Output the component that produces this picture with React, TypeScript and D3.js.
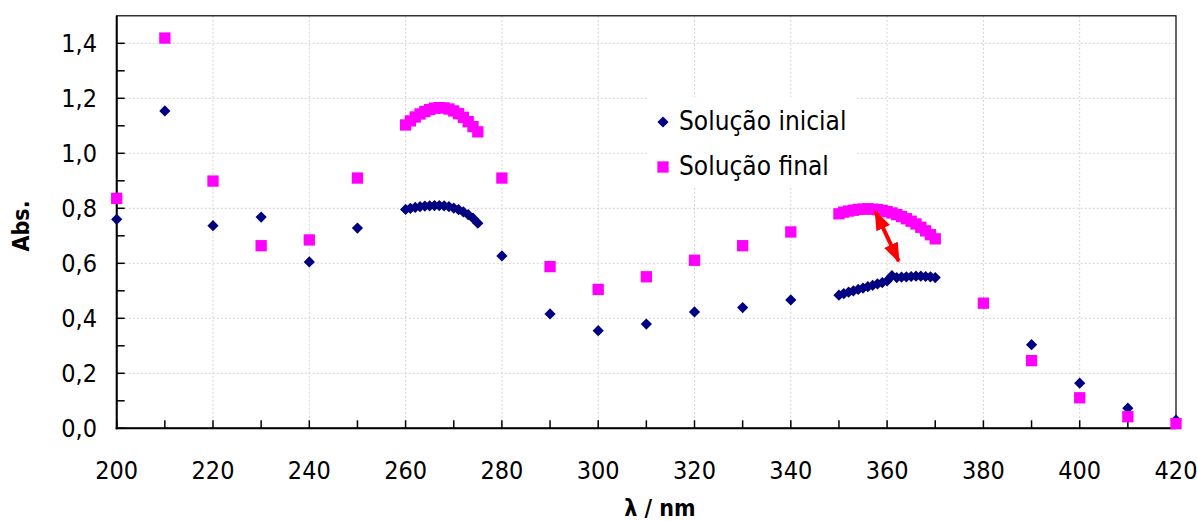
import React from "react";
import * as d3 from "d3";

const X_TICKS = [200, 220, 240, 260, 280, 300, 320, 340, 360, 380, 400, 420];
const X_MINOR = [210, 230, 250, 270, 290, 310, 330, 350, 370, 390, 410];
const Y_TICKS = [0, 0.2, 0.4, 0.6, 0.8, 1.0, 1.2, 1.4];
const Y_MINOR = [0.1, 0.3, 0.5, 0.7, 0.9, 1.1, 1.3];

const WAVE = [
  200, 210, 220, 230, 240, 250,
  260, 261, 262, 263, 264, 265, 266, 267, 268, 269, 270, 271, 272, 273, 274, 275,
  280, 290, 300, 310, 320, 330, 340,
  350, 351, 352, 353, 354, 355, 356, 357, 358, 359, 360, 361, 362, 363, 364, 365, 366, 367, 368, 369, 370,
  380, 390, 400, 410, 420,
];

const INICIAL = [
  0.760, 1.154, 0.737, 0.768, 0.605, 0.728,
  0.796, 0.800, 0.803, 0.806, 0.808, 0.809, 0.810, 0.810, 0.809, 0.806, 0.801, 0.795, 0.787, 0.777, 0.764, 0.746,
  0.627, 0.416, 0.355, 0.379, 0.423, 0.439, 0.467,
  0.484, 0.490, 0.495, 0.500, 0.505, 0.510, 0.515, 0.520, 0.525, 0.530, 0.536, 0.555, 0.548, 0.550, 0.551, 0.552, 0.553, 0.553, 0.552, 0.551, 0.548,
  0.455, 0.304, 0.164, 0.073, 0.030,
];

const FINAL = [
  0.836, 1.419, 0.899, 0.664, 0.685, 0.910,
  1.103, 1.118, 1.132, 1.143, 1.152, 1.159, 1.164, 1.166, 1.165, 1.161, 1.154, 1.144, 1.131, 1.115, 1.097, 1.078,
  0.910, 0.588, 0.505, 0.551, 0.611, 0.664, 0.714,
  0.780, 0.786, 0.790, 0.793, 0.796, 0.797, 0.798, 0.797, 0.795, 0.792, 0.788, 0.783, 0.777, 0.770, 0.762, 0.753, 0.743, 0.731, 0.718, 0.704, 0.689,
  0.455, 0.246, 0.111, 0.042, 0.017,
];

const SERIES_NAMES = ["Solução inicial", "Solução final"];
const ARROW_X = [357.6, 362.4];
const ARROW_Y = [0.787, 0.608];

const NAVY = "#000080";
const MAGENTA = "#FF00FF";
const FONT = "'DejaVu Sans Condensed', 'DejaVu Sans', sans-serif";

export default function App() {
  const W = 1197, H = 521;
  const x = d3.scaleLinear().domain([200, 420]).range([116.7, 1176]);
  const y = d3.scaleLinear().domain([0, 1.5]).range([428.3, 15.8]);
  const x0 = x(200), x1 = x(420), yb = y(0), yt = y(1.5);

  const diamond = d3.symbol().type(d3.symbolDiamond2).size(80)();
  const square = d3.symbol().type(d3.symbolSquare).size(128)();

  const pts = WAVE.map((w, i) => ({ w, a: INICIAL[i], b: FINAL[i] }));

  return (
    <svg width={W} height={H} style={{ position: "absolute", left: 0, top: 0, background: "#fff" }} fontFamily={FONT}>
      <defs>
        <marker id="ah" viewBox="0 0 10 10" refX="9" refY="5" markerWidth="20" markerHeight="15" markerUnits="userSpaceOnUse" orient="auto-start-reverse" preserveAspectRatio="none">
          <path d="M0,0 L10,5 L0,10 Z" fill="#FF0000" />
        </marker>
      </defs>
      {/* gridlines */}
      <g stroke="#d2d2d2" strokeWidth={1} strokeDasharray="2,2">
        {X_TICKS.slice(1, -1).map((t) => (
          <line key={"gx" + t} x1={x(t)} x2={x(t)} y1={yt} y2={yb} />
        ))}
        {Y_TICKS.slice(1).map((t) => (
          <line key={"gy" + t} x1={x0} x2={x1} y1={y(t)} y2={y(t)} />
        ))}
      </g>
      {/* legend background */}
      <rect x={647} y={97} width={208} height={90} fill="#fff" />
      {/* frame */}
      <rect x={x0} y={yt} width={x1 - x0} height={yb - yt} fill="none" stroke="#000" strokeWidth={1.2} />
      <line x1={x0} x2={x0} y1={yt} y2={yb + 1} stroke="#000" strokeWidth={2} />
      <line x1={x0 - 1} x2={x1} y1={yb} y2={yb} stroke="#000" strokeWidth={2} />
      {/* ticks */}
      <g stroke="#000" strokeWidth={1.5}>
        {[...X_TICKS, ...X_MINOR].map((t) => (
          <line key={"tx" + t} x1={x(t)} x2={x(t)} y1={yb} y2={yb - 8} />
        ))}
        {[...Y_TICKS, ...Y_MINOR].map((t) => (
          <line key={"ty" + t} x1={x0} x2={x0 + 8} y1={y(t)} y2={y(t)} />
        ))}
      </g>
      {/* tick labels */}
      <g fontSize={25} fill="#000">
        {X_TICKS.map((t) => (
          <text key={"lx" + t} x={x(t)} y={479} textAnchor="middle">{t}</text>
        ))}
        {Y_TICKS.map((t) => (
          <text key={"ly" + t} x={97} y={y(t)} dy="0.36em" textAnchor="end">{d3.format(".1f")(t).replace(".", ",")}</text>
        ))}
      </g>
      {/* axis titles */}
      <text x={660} y={516} textAnchor="middle" fontWeight="bold" fontSize={23}>λ / nm</text>
      <text transform={`translate(29,226) rotate(-90)`} textAnchor="middle" fontWeight="bold" fontSize={23}>Abs.</text>
      {/* series */}
      <g fill={NAVY}>
        {pts.map((p) => (
          <path key={"a" + p.w} d={diamond} transform={`translate(${x(p.w)},${y(p.a)})`} />
        ))}
      </g>
      <g fill={MAGENTA}>
        {pts.map((p) => (
          <path key={"b" + p.w} d={square} transform={`translate(${x(p.w)},${y(p.b)})`} />
        ))}
      </g>
      {/* arrow */}
      <line x1={x(ARROW_X[0])} y1={y(ARROW_Y[0])} x2={x(ARROW_X[1])} y2={y(ARROW_Y[1])} stroke="#FF0000" strokeWidth={4} markerStart="url(#ah)" markerEnd="url(#ah)" />
      {/* legend */}
      <g fontSize={26}>
        <path d={diamond} transform="translate(663,122)" fill={NAVY} />
        <text x={679} y={130}>{SERIES_NAMES[0]}</text>
        <path d={square} transform="translate(663,167)" fill={MAGENTA} />
        <text x={679} y={175}>{SERIES_NAMES[1]}</text>
      </g>
    </svg>
  );
}
